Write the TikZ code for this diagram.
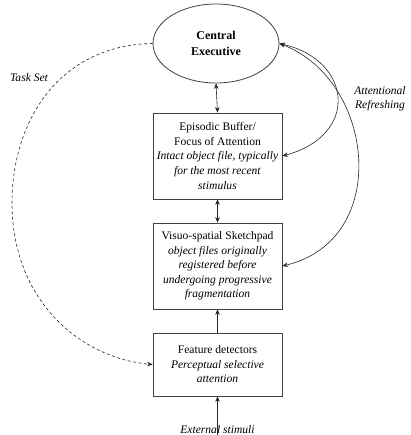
\documentclass[tikz,border=0pt]{standalone}
\usepackage{fontspec}
\setmainfont{Liberation Serif}
\usetikzlibrary{shapes.geometric,arrows.meta}
\begin{document}
\begin{tikzpicture}[x=1bp,y=-1bp,
  box/.style={draw=black!75,line width=0.8pt,minimum width=129bp,align=center,inner sep=0pt,
    font=\fontsize{11.6}{14.6}\selectfont},
  lbl/.style={font=\fontsize{11.6}{14.6}\selectfont\itshape,align=center,inner sep=0pt},
  arr/.style={line width=0.6pt,draw=black!85,-{Stealth[length=5.5pt,width=4.5pt]}},
  darr/.style={line width=0.6pt,draw=black!85,{Stealth[length=5.5pt,width=4.5pt]}-{Stealth[length=5.5pt,width=4.5pt]}}]
\useasboundingbox (0,0) rectangle (410,435);
\node[ellipse,draw=black!75,line width=0.8pt,minimum width=126bp,minimum height=79bp,inner sep=0pt,align=center,
  font=\fontsize{12}{16}\selectfont\bfseries] (ce) at (216,43.5) {Central\\Executive};
\node[box,minimum height=86bp] (b1) at (217.5,156) {Episodic Buffer/\\Focus of Attention\\\textit{Intact object file, typically}\\\textit{for the most recent}\\\textit{stimulus}};
\node[box,minimum height=86bp] (b2) at (217.5,266) {Visuo-spatial Sketchpad\\\textit{object files originally}\\\textit{registered before}\\\textit{undergoing progressive}\\\textit{fragmentation}};
\node[box,minimum height=63bp] (b3) at (217.5,364.5) {Feature detectors\\\textit{Perceptual selective}\\\textit{attention}};
\node[lbl] (stim) at (217.5,430) {External stimuli};
\node[lbl] (ts) at (29,78) {Task Set};
\node[lbl] (ar) at (380,98.5) {Attentional\\Refreshing};
\draw[darr] (ce.south) -- (b1.north);
\draw[darr] (b1.south) -- (b2.north);
\draw[arr] (b3.north) -- (b2.south);
\draw[arr] ([yshift=-12bp]stim.north) -- (b3.south);
\draw[arr,dashed,dash pattern=on 3pt off 2.5pt] (ce.west) .. controls (60,45) and (12,120) .. (12,203)
   .. controls (12,300) and (80,358) .. (b3.west);
\draw[darr] (b1.east) .. controls (360,135) and (352,60) .. (ce.east);
\draw[darr] (b2.east) .. controls (392,240) and (375,80) .. (ce.east);
\end{tikzpicture}
\end{document}
